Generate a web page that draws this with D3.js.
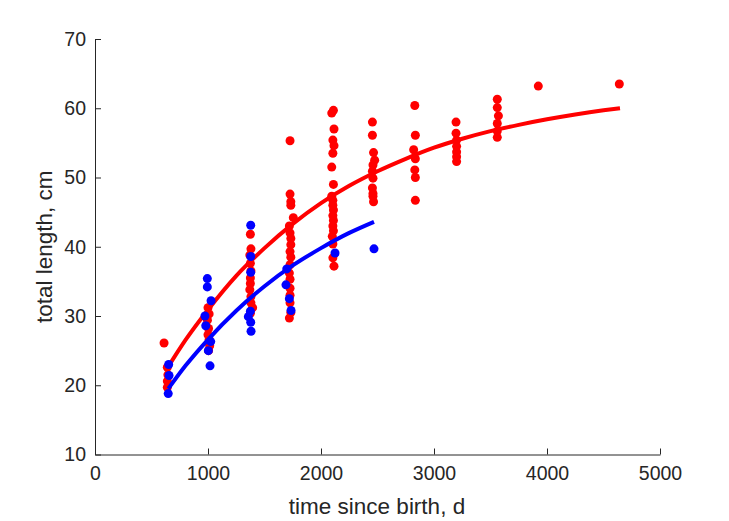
<!DOCTYPE html>
<html>
<head>
<meta charset="utf-8">
<script src="https://cdn.jsdelivr.net/npm/d3@7"></script>
<style>
  html, body { margin: 0; padding: 0; background: #ffffff; }
  svg { display: block; }
  text { font-family: "Liberation Sans", Arial, Helvetica, sans-serif; fill: #262626; }
</style>
</head>
<body>
<svg id="chart" width="729" height="521"></svg>
<script>
// ---- data ----
const xTicks = [0, 1000, 2000, 3000, 4000, 5000];
const yTicks = [10, 20, 30, 40, 50, 60, 70];
const xLabel = "time since birth, d";
const yLabel = "total length, cm";

// red (observations) [time, length]
const redPoints = [
  [611, 26.1], [640, 22.6], [645, 21.5], [640, 20.6], [640, 19.7],
  [1000, 31.2], [1010, 30.3], [990, 29.8], [995, 29.4], [1005, 28.2], [1000, 27.3], [1010, 26.6], [1015, 25.7], [1005, 25.0],
  [1375, 41.8], [1380, 39.7], [1370, 38.8], [1375, 37.6], [1380, 36.5], [1375, 35.5], [1375, 34.7], [1370, 33.8], [1380, 32.8], [1380, 31.9], [1395, 31.2], [1375, 30.4],
  [1726, 55.3], [1726, 47.6], [1733, 46.5], [1733, 46.0], [1755, 44.2], [1720, 43.0], [1726, 42.0], [1733, 41.2], [1733, 40.3], [1726, 39.3], [1733, 38.5], [1726, 37.4], [1720, 36.2], [1726, 35.3], [1726, 34.0], [1726, 33.0], [1726, 31.9], [1733, 30.5], [1720, 29.7],
  [2110, 59.7], [2095, 59.3], [2115, 57.0], [2105, 55.4], [2115, 54.6], [2105, 53.5], [2095, 51.5], [2110, 49.0], [2095, 47.3], [2105, 46.7], [2105, 46.0], [2110, 45.3], [2105, 44.5], [2110, 43.8], [2105, 43.0], [2110, 42.3], [2100, 41.5], [2105, 40.4], [2105, 38.4], [2115, 37.2],
  [2455, 58.0], [2455, 56.1], [2465, 53.6], [2475, 52.5], [2460, 51.8], [2455, 50.9], [2460, 49.9], [2455, 48.5], [2460, 47.7], [2460, 47.3], [2465, 46.5],
  [2830, 60.4], [2835, 56.1], [2820, 54.0], [2835, 52.7], [2830, 51.1], [2835, 50.0], [2835, 46.7],
  [3195, 58.0], [3195, 56.4], [3200, 55.4], [3200, 54.5], [3200, 53.7], [3200, 53.0], [3200, 52.3],
  [3560, 61.3], [3560, 60.1], [3570, 58.9], [3560, 57.8], [3560, 56.7], [3560, 55.8],
  [3923, 63.2],
  [4640, 63.5]
];

// blue (observations) [time, length]
const bluePoints = [
  [652, 23.0], [655, 21.4], [648, 18.8],
  [994, 35.4], [994, 34.2], [1027, 32.2], [973, 30.0], [980, 28.6], [1024, 26.3], [1003, 25.0], [1018, 22.8],
  [1378, 43.1], [1378, 38.6], [1378, 36.3], [1375, 30.7], [1357, 29.9], [1378, 29.1], [1381, 27.8],
  [1697, 36.8], [1690, 34.5], [1720, 32.5], [1735, 30.8],
  [2124, 39.1],
  [2469, 39.7]
];

// fitted growth curves [time, length]
const redCurve = [
  [634, 22.3], [800, 26.5], [1000, 30.9], [1250, 35.8], [1500, 39.8], [1750, 43.3],
  [2000, 46.3], [2250, 48.8], [2500, 50.9], [2750, 52.7], [3000, 54.3], [3250, 55.6],
  [3500, 56.7], [3750, 57.6], [4000, 58.4], [4250, 59.1], [4500, 59.7], [4646, 60.0]
];
const blueCurve = [
  [649, 19.5], [800, 22.8], [1000, 26.6], [1250, 30.75], [1500, 34.3], [1750, 37.3],
  [2000, 39.8], [2250, 42.0], [2469, 43.6]
];

// ---- drawing ----
const svg = d3.select("#chart");
const W = 729, H = 521;
const mLeft = 95, mRight = 660, mTop = 39, mBottom = 454.5;

const x = d3.scaleLinear().domain([0, 5000]).range([mLeft, mRight]);
const y = d3.scaleLinear().domain([10, 70]).range([mBottom, mTop]);

svg.append("rect").attr("width", W).attr("height", H).attr("fill", "#ffffff");

const axisColor = "#262626";
const tickFont = 19.5;

const gx = svg.append("g").attr("transform", `translate(0,${mBottom})`)
  .call(d3.axisBottom(x).tickValues(xTicks).tickFormat(d3.format("d")).tickSizeInner(-6).tickSizeOuter(0).tickPadding(12));
const gy = svg.append("g").attr("transform", `translate(${mLeft},0)`)
  .call(d3.axisLeft(y).tickValues(yTicks).tickFormat(d3.format("d")).tickSizeInner(-6).tickSizeOuter(0).tickPadding(9));

[gx, gy].forEach(g => {
  g.select(".domain").attr("stroke", axisColor).attr("stroke-width", 1);
  g.selectAll(".tick line").attr("stroke", axisColor).attr("stroke-width", 1);
  g.selectAll(".tick text").attr("font-size", tickFont)
    .attr("font-family", "'Liberation Sans', Arial, Helvetica, sans-serif").attr("fill", axisColor);
});

svg.append("text").attr("x", 377).attr("y", 514)
  .attr("text-anchor", "middle").attr("font-size", 22.5).text(xLabel);
svg.append("text").attr("transform", `translate(52,${(mTop + mBottom) / 2}) rotate(-90)`)
  .attr("text-anchor", "middle").attr("font-size", 22.5).text(yLabel);

const R = 4.5;
const line = d3.line().x(d => x(d[0])).y(d => y(d[1])).curve(d3.curveMonotoneX);

svg.append("g").selectAll("circle").data(redPoints).join("circle")
  .attr("cx", d => x(d[0])).attr("cy", d => y(d[1])).attr("r", R).attr("fill", "#ff0000");
svg.append("path").datum(redCurve).attr("d", line)
  .attr("fill", "none").attr("stroke", "#ff0000").attr("stroke-width", 4);
svg.append("g").selectAll("circle").data(bluePoints).join("circle")
  .attr("cx", d => x(d[0])).attr("cy", d => y(d[1])).attr("r", R).attr("fill", "#0000ff");
svg.append("path").datum(blueCurve).attr("d", line)
  .attr("fill", "none").attr("stroke", "#0000ff").attr("stroke-width", 4);
</script>
</body>
</html>
